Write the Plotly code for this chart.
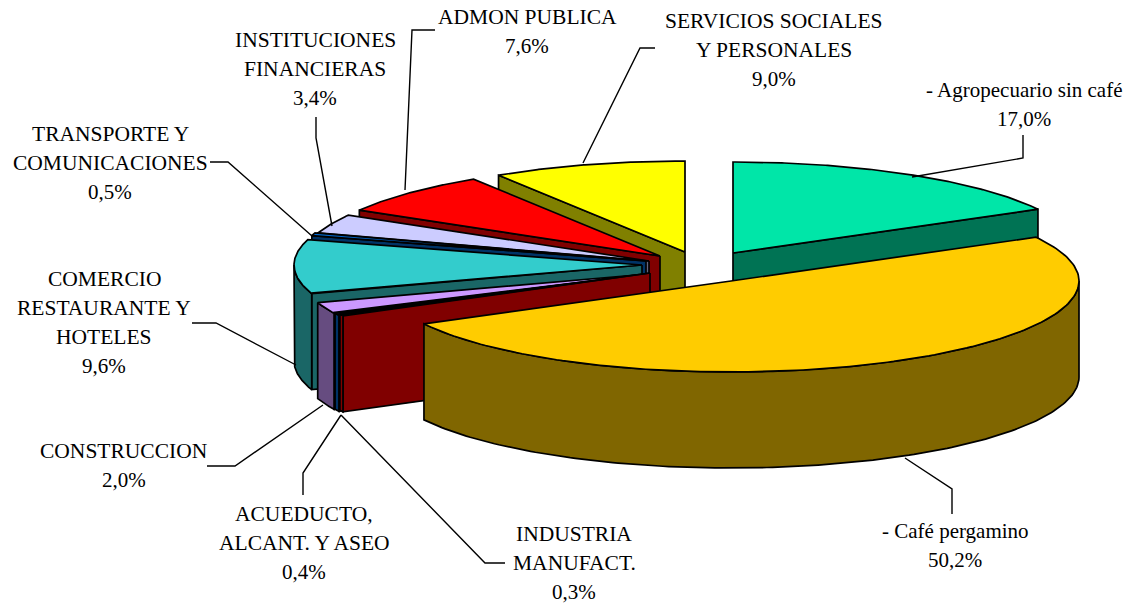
import numpy as np
import plotly.graph_objects as go

# ---- data ----
sectors = ["Agropecuario sin cafe", "Cafe pergamino", "Industria", "Acueducto", "Construccion",
           "Comercio", "Transporte", "Instituciones", "Admon", "Servicios"]
values = [17.0, 50.2, 0.3, 0.4, 2.0, 9.6, 0.5, 3.4, 7.6, 9.0]
top_colors = ["#00E6A8", "#FFCC00", "#FF0000", "#0066CC", "#CC99FF",
              "#33CCCC", "#0066CC", "#CCCCFF", "#FF0000", "#FFFF00"]
wall_colors = ["#007354", "#806600", "#800000", "#003366", "#664C80",
               "#1A6666", "#003366", "#666680", "#800000", "#808000"]

label_lines = [
    ["- Agropecuario sin café", "17,0%"],
    ["- Café pergamino", "50,2%"],
    ["INDUSTRIA", "MANUFACT.", "0,3%"],
    ["ACUEDUCTO,", "ALCANT. Y ASEO", "0,4%"],
    ["CONSTRUCCION", "2,0%"],
    ["COMERCIO", "RESTAURANTE Y", "HOTELES", "9,6%"],
    ["TRANSPORTE Y", "COMUNICACIONES", "0,5%"],
    ["INSTITUCIONES", "FINANCIERAS", "3,4%"],
    ["ADMON PUBLICA", "7,6%"],
    ["SERVICIOS SOCIALES", "Y PERSONALES", "9,0%"],
]

# ---- layout of the drawing ----
apex_x = [733, 731, 650, 649, 648, 642, 646, 649, 660, 685]
apex_y = [253, 281, 273, 274, 274, 265, 261, 261, 256, 252]
RX, RY, DEPTH = 348, 91, 96
draw_order = [0, 9, 8, 7, 6, 5, 4, 3, 2, 1]

label_x = [1024, 955, 574, 304, 124, 104, 110, 315, 527, 774]
label_y = [90, 531, 534, 514, 451, 279, 134, 40, 17, 21]
LINE_STEP = 29

leader_x = [[1023, 1023, 912], [905, 952, 952], [505, 485, 341], [303, 303, 341], [207, 235, 323],
            [192, 216, 296], [210, 228, 312], [316, 316, 332], [435, 412, 405], [655, 640, 583]]
leader_y = [[135, 158, 177], [458, 489, 514], [563, 563, 415], [495, 473, 415], [466, 466, 405],
            [323, 323, 365], [162, 162, 236], [117, 138, 226], [30, 30, 190], [48, 48, 163]]

FONT_FAMILY = "Liberation Serif, Times New Roman, serif"
fig = go.Figure()


def poly(xs, ys, color):
    fig.add_trace(go.Scatter(x=xs, y=ys, mode="lines", fill="toself", fillcolor=color,
                             line=dict(color="black", width=1.7), hoverinfo="skip", showlegend=False))


edges = np.concatenate([[0], np.cumsum(values)]) / sum(values) * 2 * np.pi

for i in draw_order:
    a, b = edges[i], edges[i + 1]
    ox, oy = apex_x[i], apex_y[i]
    px = lambda t: ox + RX * np.sin(t)
    py = lambda t: oy - RY * np.cos(t)
    # radial cut faces that look toward the viewer
    for t, visible in ((a, np.sin(a) < 0), (b, np.sin(b) > 0)):
        if visible:
            poly([ox, px(t), px(t), ox, ox], [oy, py(t), py(t) + DEPTH, oy + DEPTH, oy], wall_colors[i])
    # outer wall on the front half of the rim
    lo, hi = max(a, np.pi / 2), min(b, 3 * np.pi / 2)
    if hi > lo:
        t = np.linspace(lo, hi, 160)
        poly(np.concatenate([px(t), px(t)[::-1], px(t)[:1]]),
             np.concatenate([py(t), py(t)[::-1] + DEPTH, py(t)[:1]]), wall_colors[i])
    # top surface
    t = np.linspace(a, b, 160)
    poly(np.concatenate([[ox], px(t), [ox]]), np.concatenate([[oy], py(t), [oy]]), top_colors[i])

for xs, ys in zip(leader_x, leader_y):
    fig.add_trace(go.Scatter(x=xs, y=ys, mode="lines", line=dict(color="black", width=1.4),
                             hoverinfo="skip", showlegend=False))

for lines, x, y in zip(label_lines, label_x, label_y):
    for k, line in enumerate(lines):
        size = 21.5 if line.isupper() and "%" not in line else 21
        fig.add_annotation(x=x, y=y + k * LINE_STEP, text=line, showarrow=False,
                           font=dict(family=FONT_FAMILY, size=size, color="black"),
                           xanchor="center", yanchor="middle")

fig.update_layout(width=1130, height=607, margin=dict(l=0, r=0, t=0, b=0),
                  paper_bgcolor="white", plot_bgcolor="white", showlegend=False,
                  xaxis=dict(range=[0, 1130], visible=False, fixedrange=True),
                  yaxis=dict(range=[607, 0], visible=False, fixedrange=True))
fig.write_html("out.html", config={"displayModeBar": False},
               post_script="document.body.style.margin='0';document.body.style.overflow='hidden';")
